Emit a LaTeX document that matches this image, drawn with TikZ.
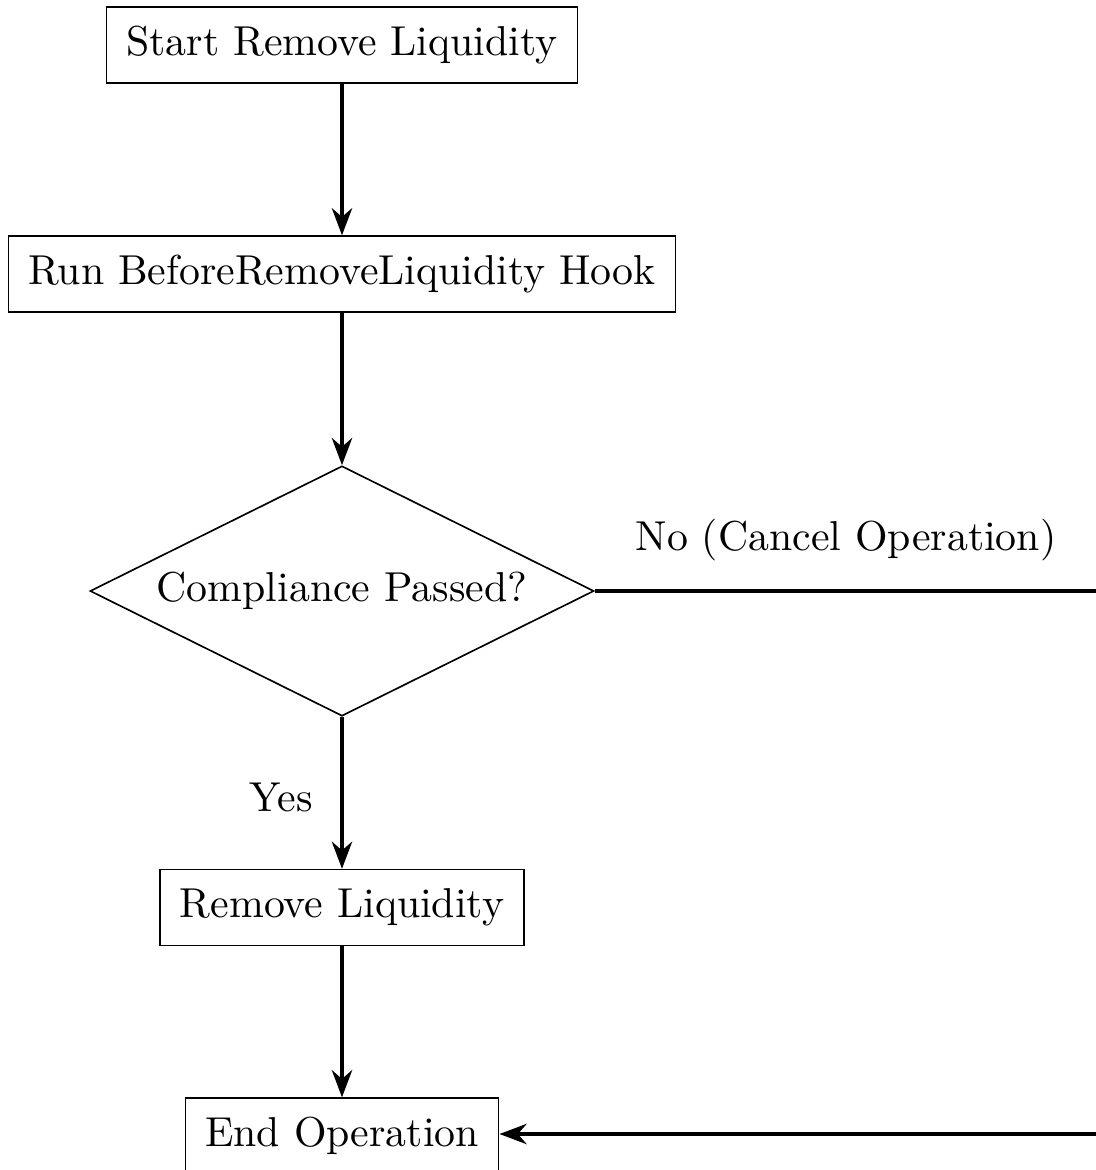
\documentclass[tikz,border=0pt]{standalone}
\usetikzlibrary{shapes.geometric,arrows.meta}
\begin{document}
\begin{tikzpicture}[x=0.2427pt,y=-0.2427pt,
  every node/.style={font=\fontsize{10.15pt}{12pt}\selectfont},
  box/.style={draw,line width=0.4pt,rectangle,minimum height=18.4pt,inner xsep=4.8pt,inner ysep=3pt},
  dia/.style={draw,line width=0.4pt,diamond,aspect=2,minimum width=122.3pt,minimum height=60.7pt,inner sep=0pt},
  arr/.style={thick,-{Stealth}},
  lab/.style={inner sep=0pt}]
\useasboundingbox (0,0) rectangle (1096,1170);
\clip (0,0) rectangle (1096,1170);
\node[box] (start) at (342,45) {Start Remove Liquidity};
\node[box] (hook) at (342,274) {Run BeforeRemoveLiquidity Hook};
\node[dia] (check) at (342,591) {Compliance Passed?};
\node[box] (remove) at (342,907.5) {Remove Liquidity};
\node[box] (end) at (342,1136) {End Operation};
\coordinate (c1) at (1110,591);
\coordinate (c2) at (1110,1134);
\draw[arr] (start) -- (hook);
\draw[arr] (hook) -- (check);
\draw[arr] (check) -- (remove);
\draw[arr] (remove) -- (end);
\draw[arr] (check.east) -- (c1) -- (c2) -- (end.east |- c2);
\node[lab] (yes) at (281,797) {Yes};
\node[lab] (no) at (846,540) {No (Cancel Operation)};
\end{tikzpicture}
\end{document}
